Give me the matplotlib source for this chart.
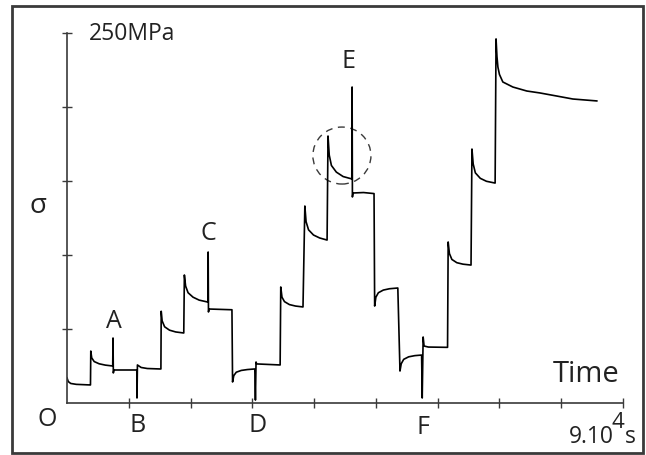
import matplotlib
matplotlib.use("Agg")
from matplotlib import pyplot as plt
from matplotlib.patches import Ellipse, Rectangle

# time in 1e4 s, stress in MPa
t = [0.00, 0.02, 0.06, 0.15, 0.37,
     0.38, 0.385, 0.40, 0.44, 0.52, 0.62, 0.74,
     0.745, 0.75, 0.76, 1.13,
     1.133, 1.14, 1.20, 1.30, 1.50,
     1.52, 1.525, 1.54, 1.58, 1.66, 1.76, 1.89,
     1.90, 1.92, 1.96, 2.04, 2.14, 2.28,
     2.285, 2.29, 2.30, 2.67,
     2.68, 2.70, 2.74, 2.82, 2.92, 3.04,
     3.05, 3.06, 3.07, 3.45,
     3.46, 3.48, 3.52, 3.60, 3.70, 3.82,
     3.85, 3.87, 3.91, 3.99, 4.09, 4.21,
     4.225, 4.245, 4.28, 4.36, 4.47, 4.61,
     4.615, 4.62, 4.63, 4.80, 4.97,
     4.98, 5.00, 5.04, 5.12, 5.22, 5.355,
     5.39, 5.41, 5.45, 5.53, 5.63, 5.74,
     5.75, 5.765, 5.78, 5.85, 6.16,
     6.17, 6.19, 6.23, 6.31, 6.41, 6.54,
     6.555, 6.575, 6.61, 6.69, 6.79, 6.93,
     6.945, 6.96, 6.975, 7.00, 7.055, 7.217, 7.443, 7.654, 7.929, 8.188, 8.576]
sigma = [17.0, 14.5, 13.2, 12.6, 12.2,
         12.2, 35.1, 30.5, 28.0, 26.5, 25.6, 25.0,
         43.9, 20.3, 22.3, 22.3,
         3.4, 25.7, 24.0, 23.3, 23.0,
         23.0, 62.0, 55.5, 51.5, 49.2, 48.0, 47.3,
         86.5, 79.0, 74.5, 71.5, 69.5, 68.2,
         102.0, 61.5, 63.5, 63.0,
         14.2, 18.5, 20.8, 22.0, 22.6, 23.0,
         2.0, 27.7, 26.4, 25.7,
         78.4, 71.5, 68.5, 66.5, 65.5, 64.9,
         133.1, 122.5, 117.0, 113.5, 111.5, 110.1,
         180.4, 167.5, 160.5, 156.0, 153.0, 151.4,
         213.5, 139.2, 141.9, 142.2, 141.5,
         65.5, 71.5, 74.5, 76.3, 77.2, 77.7,
         21.6, 26.5, 29.5, 31.2, 32.0, 32.4,
         3.4, 44.6, 38.5, 37.8, 37.6,
         108.8, 101.0, 97.0, 94.8, 93.8, 93.2,
         171.6, 161.5, 155.5, 151.8, 149.8, 148.6,
         246.0, 234.0, 227.0, 222.0, 216.9, 213.5, 210.8, 209.5, 207.4, 205.4, 204.1]

x_ticks = [1, 2, 3, 4, 5, 6, 7, 8, 9]
y_ticks = [50, 100, 150, 200, 250]

W, H = 646, 455
GREY = "#3a3a3a"
INK = "#222222"
FONT = ["Open Sans", "DejaVu Sans"]


def px(x, y):
    return x / W, 1 - y / H


fig = plt.figure(figsize=(W / 100, H / 100), dpi=100)
ax = fig.add_axes([67 / W, 52 / H, 556 / W, 370 / H])
ax.plot(t, sigma, color="black", lw=1.2)
ax.set_xlim(0, 9)
ax.set_ylim(0, 250)
ax.set_xticks(x_ticks)
ax.set_yticks(y_ticks)
ax.set_xticklabels([])
ax.set_yticklabels([])
ax.tick_params(direction="inout", length=7, width=1.0, color=GREY)
for s in ["top", "right"]:
    ax.spines[s].set_visible(False)
for s in ["left", "bottom"]:
    ax.spines[s].set_color(GREY)
    ax.spines[s].set_linewidth(1.2)
ax.set_facecolor("none")

# dashed circle around the E region
ax.add_patch(Ellipse((4.45, 167.2), 0.94, 38.5, fill=False, ls=(0, (5, 4)),
                     lw=1.0, color=GREY))

# outer frame
fig.patches.append(Rectangle(px(12, 453), 631 / W, 447 / H, transform=fig.transFigure,
                             fill=False, lw=2, edgecolor=GREY))

fig.text(*px(89, 40), "250MPa", fontsize=16.5, family=FONT, va="baseline", color=INK)
fig.text(*px(38, 206), "σ", fontsize=20, family=FONT, ha="center", va="center", color=INK)
for lab, x, y in [("A", 114, 322), ("B", 138, 425), ("C", 208, 234), ("D", 258, 425),
                  ("E", 349, 62), ("F", 423, 427), ("O", 47, 420)]:
    fig.text(*px(x, y), lab, fontsize=18, family=FONT, ha="center", va="center", color=INK)
fig.text(*px(586, 382), "Time", fontsize=21, family=FONT, ha="center", va="baseline", color=INK)
fig.text(*px(569, 443), "9.10", fontsize=16.5, family=FONT, va="baseline", color=INK)
fig.text(*px(612, 428), "4", fontsize=16, family=FONT, va="baseline", color=INK)
fig.text(*px(625, 443), "s", fontsize=16.5, family=FONT, va="baseline", color=INK)

fig.savefig("out.png", dpi=100)
